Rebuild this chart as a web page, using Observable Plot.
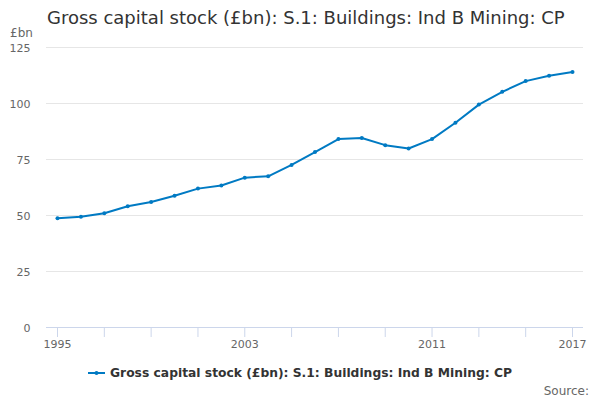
<!DOCTYPE html>
<html>
<head>
<meta charset="utf-8">
<script src="https://cdn.jsdelivr.net/npm/d3@7"></script>
<script src="https://cdn.jsdelivr.net/npm/@observablehq/plot@0.6"></script>
<style>
  html, body { margin: 0; padding: 0; background: #fff; }
  #wrap { position: relative; width: 600px; height: 400px; overflow: hidden; font-family: "DejaVu Sans", sans-serif; }
  #title { position: absolute; left: 47px; top: 9px; font-size: 18px; line-height: 18px; color: #333; white-space: nowrap; }
  #unit { position: absolute; left: 10px; top: 27px; font-size: 12px; line-height: 12px; color: #666; }
  #legend { position: absolute; left: 0; width: 600px; top: 366px; display: flex; justify-content: center; align-items: center; font-size: 12.3px; font-weight: bold; color: #333; line-height: 14px; }
  #legend svg { margin-right: 5px; }
  #source { position: absolute; right: 11px; top: 385px; font-size: 12px; line-height: 13px; color: #666; }
  #chart { position: absolute; left: 0; top: 0; }
</style>
</head>
<body>
<div id="wrap">
  <div id="chart"></div>
  <div id="title"></div>
  <div id="unit">£bn</div>
  <div id="legend"></div>
  <div id="source">Source:</div>
</div>
<script>
const titleText = "Gross capital stock (£bn): S.1: Buildings: Ind B Mining: CP";
const seriesName = "Gross capital stock (£bn): S.1: Buildings: Ind B Mining: CP";
const years = [1995,1996,1997,1998,1999,2000,2001,2002,2003,2004,2005,2006,2007,2008,2009,2010,2011,2012,2013,2014,2015,2016,2017];
const values = [48.8,49.4,51.0,54.1,56.0,58.8,62.0,63.4,66.9,67.5,72.6,78.3,84.1,84.6,81.4,79.9,84.1,91.4,99.5,105.2,110.0,112.4,114.1];
const xTicks = [1995,1997,1999,2001,2003,2005,2007,2009,2011,2013,2015,2017];
const xLabels = [1995,2003,2011,2017];
const yTicks = [0,25,50,75,100,125];
const color = "#007ac3";

document.getElementById("title").textContent = titleText;

const data = years.map((y, i) => ({year: y, value: values[i]}));

const chart = Plot.plot({
  width: 600,
  height: 400,
  marginTop: 47,
  marginBottom: 73,
  marginLeft: 46,
  marginRight: 17,
  style: { fontFamily: "DejaVu Sans, sans-serif", fontSize: "11px", color: "#666", background: "transparent" },
  x: { domain: [1995, 2017], insetLeft: 11, insetRight: 11 },
  y: { domain: [0, 125] },
  marks: [
    Plot.gridY(yTicks.filter(d => d > 0), { stroke: "#e6e6e6", strokeOpacity: 1 }),
    Plot.axisY(yTicks, { tickSize: 0, tickPadding: 16, label: null, fill: "#666", dy: 1 }),
    Plot.ruleY([0], { stroke: "#ccd6eb" }),
    Plot.axisX(xTicks, { tickSize: 10, tickPadding: 3, stroke: "#ccd6eb", fill: "#666", label: null,
      tickFormat: d => xLabels.includes(d) ? String(d) : "" }),
    Plot.line(data, { x: "year", y: "value", stroke: color, strokeWidth: 2 }),
    Plot.dot(data, { x: "year", y: "value", fill: color, r: 2 })
  ]
});
document.getElementById("chart").appendChild(chart);

const legend = document.getElementById("legend");
legend.innerHTML = `<svg width="17" height="8"><line x1="0" y1="4" x2="17" y2="4" stroke="${color}" stroke-width="2"/><circle cx="8.5" cy="4" r="2" fill="${color}"/></svg>`;
const span = document.createElement("span");
span.textContent = seriesName;
legend.appendChild(span);
</script>
</body>
</html>
